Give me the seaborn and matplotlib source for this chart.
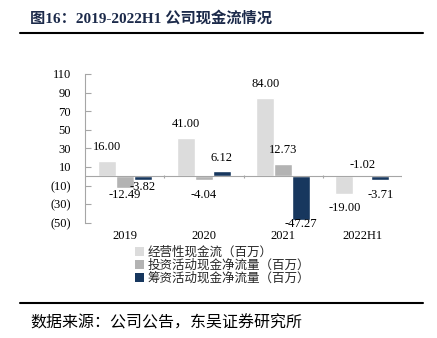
import matplotlib
matplotlib.use("Agg")
import matplotlib.pyplot as plt
import seaborn as sns
import pandas as pd
from matplotlib.lines import Line2D
from matplotlib.ticker import FuncFormatter, FixedLocator

categories = ["2019", "2020", "2021", "2022H1"]
series_names = ["经营性现金流（百万）", "投资活动现金净流量（百万）", "筹资活动现金净流量（百万）"]
operating = [16.00, 41.00, 84.00, -19.00]
investing = [-12.49, -4.04, 12.73, -1.02]
financing = [-3.82, 6.12, -47.27, -3.71]
y_ticks = [-50, -30, -10, 10, 30, 50, 70, 90, 110]

# label vertical offsets (pixels, from bar end) - styling only
label_offsets = [
    [14, 14, 14, -14],
    [-7.5, -15, 14, 12],
    [-7.5, 13, -4, -15.5],
]

colors = ["#dcdcdc", "#b3b3b3", "#17375e"]

sns.set_theme(style="white")
plt.rcParams["font.family"] = ["Liberation Serif", "Noto Sans CJK SC", "DejaVu Sans"]

rows = []
for name, vals in zip(series_names, [operating, investing, financing]):
    for c, v in zip(categories, vals):
        rows.append({"year": c, "series": name, "value": v})
df = pd.DataFrame(rows)

fig = plt.figure(figsize=(4.37, 3.38), dpi=100)
ax = fig.add_axes([85 / 437, 1 - 222.7 / 338, (402 - 85) / 437, (222.7 - 74) / 338])

sns.barplot(data=df, x="year", y="value", hue="series", order=categories,
            hue_order=series_names, palette=colors, width=0.68, ax=ax,
            saturation=1, legend=False, errorbar=None)

ax.set_ylim(-50, 110)
ax.set_xlim(-0.5, len(categories) - 0.5)
ax.yaxis.set_major_locator(FixedLocator(y_ticks))
ax.yaxis.set_major_formatter(FuncFormatter(lambda v, p: f"({abs(int(v))})" if v < 0 else f"{int(v)}"))
ax.set_xlabel("")
ax.set_ylabel("")
for s in ["top", "right", "bottom"]:
    ax.spines[s].set_visible(False)
ax.spines["left"].set_color("#a6a6a6")
ax.spines["left"].set_linewidth(0.8)
ax.tick_params(axis="y", direction="in", length=4, color="#a6a6a6", width=0.8, pad=10,
               labelsize=9, labelcolor="#000000", left=True)
ax.tick_params(axis="x", length=0, pad=5.5, labelsize=9, labelcolor="#000000")
for t in ax.get_xticklabels() + ax.get_yticklabels():
    t.set_fontfamily(["Liberation Serif"])

ax.axhline(0, color="#a6a6a6", lw=0.8, zorder=1)
bounds = [i + 0.5 for i in range(len(categories))]
ax.vlines(bounds, -1.5, 1.5, color="#a6a6a6", lw=0.8)

ax.grid(False)

for ci, cont in enumerate(ax.containers):
    vals = [operating, investing, financing][ci]
    for bi, bar in enumerate(cont):
        v = vals[bi]
        x = bar.get_x() + bar.get_width() / 2
        off = label_offsets[ci][bi] * 0.72
        ax.annotate(f"{v:.2f}", (x, v), xytext=(0, off), textcoords="offset points",
                    ha="center", va="center", fontsize=9, family=["Liberation Serif"],
                    color="#000000")

handles = [plt.Rectangle((0, 0), 1, 1, facecolor=c, edgecolor="none") for c in colors]
fig.legend(handles, series_names, loc="upper left", bbox_to_anchor=(135 / 437, 1 - 245.5 / 338),
           frameon=False, handlelength=0.75, handleheight=0.75,
           handletextpad=0.25, labelspacing=0.0, borderaxespad=0, borderpad=0,
           prop={"family": ["Noto Sans CJK SC"], "size": 9})

fig.text(30 / 437, 1 - 18 / 338, "图16：2019-2022H1 公司现金流情况", fontsize=11, fontweight="bold",
         color="#1c2a4a", va="center", ha="left",
         family=["Liberation Serif", "Noto Sans CJK SC"])
fig.add_artist(Line2D([20 / 437, 423 / 437], [1 - 33 / 338] * 2, color="black", lw=1.5,
                      transform=fig.transFigure))
fig.add_artist(Line2D([20 / 437, 423 / 437], [1 - 303 / 338] * 2, color="black", lw=1.5,
                      transform=fig.transFigure))
fig.text(30 / 437, 1 - 323 / 338, "数据来源：公司公告，东吴证券研究所", fontsize=11.5,
         color="#000000", va="center", ha="left", family=["Noto Sans CJK SC"])

fig.savefig("out.png", dpi=100)
